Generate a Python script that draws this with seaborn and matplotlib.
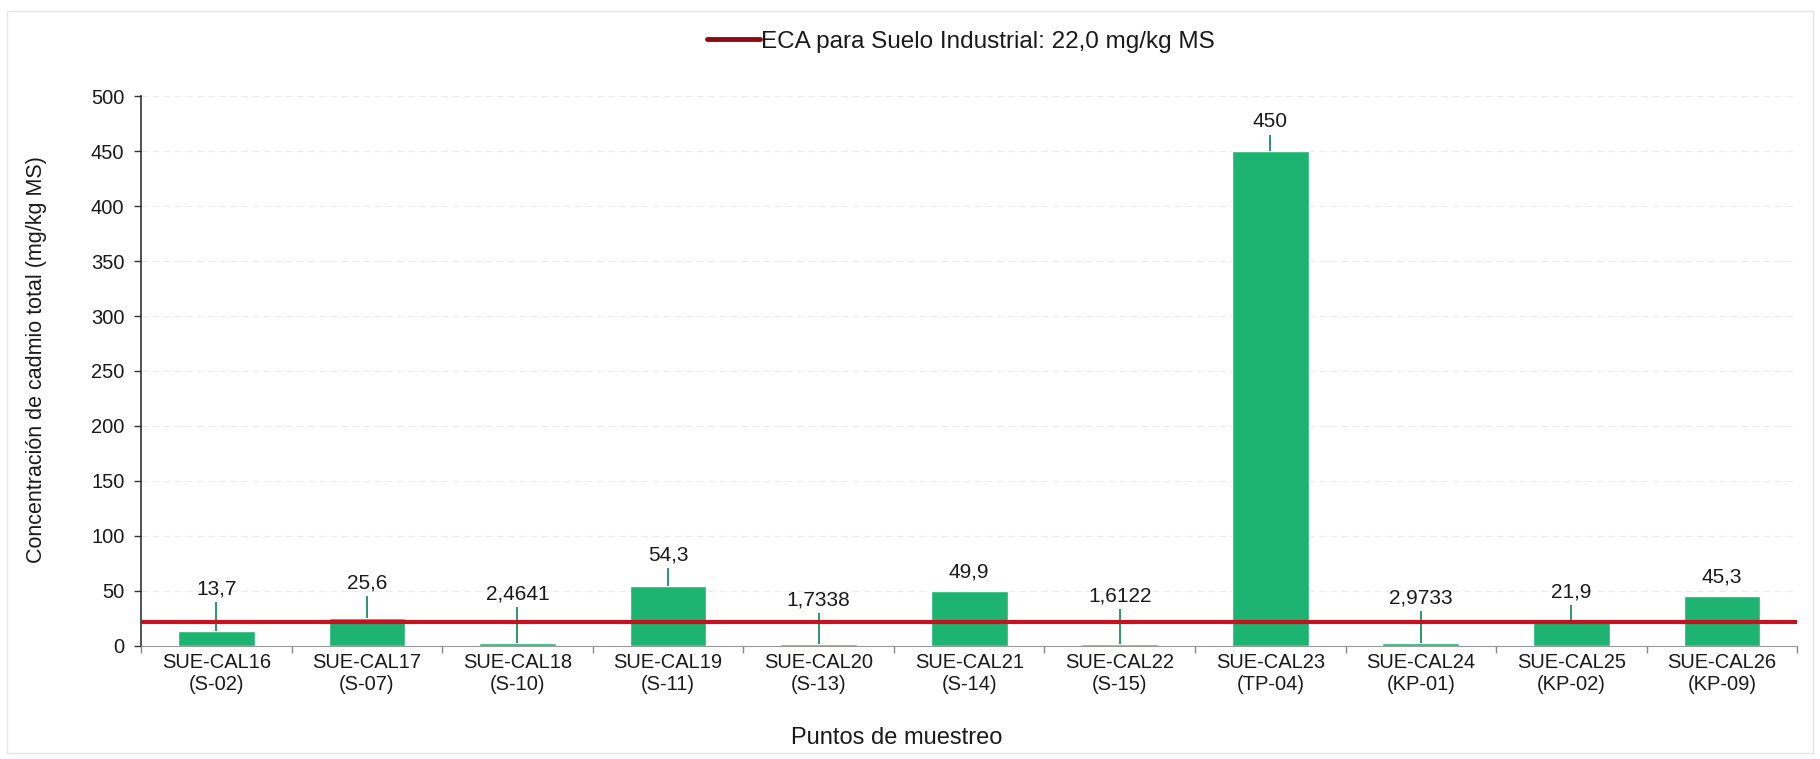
import pandas as pd
import seaborn as sns
import matplotlib.pyplot as plt
from matplotlib.lines import Line2D
from matplotlib.ticker import FixedLocator

# Sampling points (two-line tick labels)
puntos = ['SUE-CAL16\n(S-02)', 'SUE-CAL17\n(S-07)', 'SUE-CAL18\n(S-10)', 'SUE-CAL19\n(S-11)',
          'SUE-CAL20\n(S-13)', 'SUE-CAL21\n(S-14)', 'SUE-CAL22\n(S-15)', 'SUE-CAL23\n(TP-04)',
          'SUE-CAL24\n(KP-01)', 'SUE-CAL25\n(KP-02)', 'SUE-CAL26\n(KP-09)']
cadmio = [13.7, 25.6, 2.4641, 54.3, 1.7338, 49.9, 1.6122, 450, 2.9733, 21.9, 45.3]
etiquetas = ['13,7', '25,6', '2,4641', '54,3', '1,7338', '49,9', '1,6122', '450', '2,9733', '21,9', '45,3']
# upper end of the vertical line above each bar (None = no line)
limite_sup = [40, 45, 35, 71, 30, None, 34, 465, 32, 37, None]
eca_industrial = 22.0

df = pd.DataFrame({'Punto': puntos, 'Cd': cadmio})

sns.set_style('white')
plt.rcParams['font.family'] = ['Liberation Sans', 'DejaVu Sans']
plt.rcParams['text.color'] = '#1a1a1a'

fig = plt.figure(figsize=(18.2, 7.59), dpi=100)
ax = fig.add_axes([0.0775, 0.1489, 0.910, 0.7246])

sns.barplot(data=df, x='Punto', y='Cd', color='#1db371', saturation=1, width=0.51, ax=ax, zorder=2)

# leader lines above bars
for i, (v, top) in enumerate(zip(cadmio, limite_sup)):
    if top is not None:
        ax.vlines(i, v, top, color='#17915c', lw=1.3, zorder=3)
        y_lab, off = top, 13
    else:
        y_lab, off = v, 19
    ax.annotate(etiquetas[i], (i, y_lab), xytext=(0, off * 0.72), textcoords='offset points',
                ha='center', va='center', fontsize=15, color='#1a1a1a', zorder=4)

# ECA line
ax.axhline(eca_industrial, color='#c8101e', lw=3, zorder=5)

ax.set_xlim(-0.5, len(puntos) - 0.5)
ax.set_ylim(0, 500)
ax.set_yticks(range(0, 501, 50))
ax.yaxis.grid(True, color='#ececec', linestyle=(0, (6, 4)), lw=0.8)
ax.set_axisbelow(True)

ax.tick_params(axis='y', which='major', length=5, width=1, color='#333333', pad=7,
               labelsize=14.5, labelcolor='#1a1a1a', left=True)
ax.tick_params(axis='x', which='major', length=0, pad=5, labelsize=14.5, labelcolor='#1a1a1a')
ax.xaxis.set_minor_locator(FixedLocator([i + 0.5 for i in range(-1, len(puntos))]))
ax.tick_params(axis='x', which='minor', length=5, width=1, color='#888888', bottom=True)

sns.despine(ax=ax)
ax.spines['left'].set_color('#333333')
ax.spines['left'].set_linewidth(1.2)
ax.spines['bottom'].set_color('#999999')

ax.set_xlabel('Puntos de muestreo', fontsize=17, color='#1a1a1a')
ax.xaxis.set_label_coords(0.456, -0.147)
ax.set_ylabel('Concentración de cadmio total (mg/kg MS)', fontsize=15.5, color='#1a1a1a')
ax.yaxis.label.set_va('center')
ax.yaxis.set_label_coords(-0.063, 0.52)

handle = Line2D([], [], color='#8c0a14', lw=3.5)
fig.legend([handle], ['ECA para Suelo Industrial: 22,0 mg/kg MS'], loc='center',
           bbox_to_anchor=(0.528, 0.945), frameon=False, fontsize=17.5,
           handlelength=2.2, handletextpad=0.05)

# faint page border of the scanned figure
fig.patches.append(plt.Rectangle((0.004, 0.008), 0.992, 0.978, transform=fig.transFigure,
                                 fill=False, edgecolor='#e4e4ea', lw=1))

plt.savefig('out.png', dpi=100)
